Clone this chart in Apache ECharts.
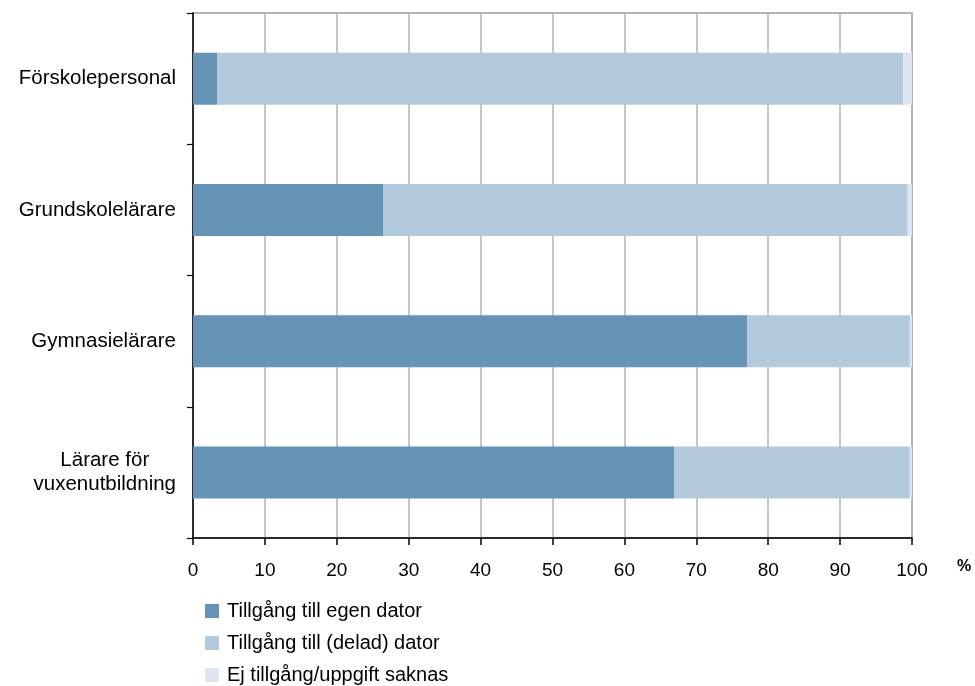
<!DOCTYPE html>
<html>
<head>
<meta charset="utf-8">
<script src="https://cdn.jsdelivr.net/npm/echarts@6/dist/echarts.min.js"></script>
<style>html,body{margin:0;padding:0;background:#fff;}#c{width:975px;height:686px;}</style>
</head>
<body>
<div id="c"></div>
<script>
var categories = ['Förskolepersonal', 'Grundskolelärare', 'Gymnasielärare', 'Lärare för\nvuxenutbildning'];
var seriesNames = ['Tillgång till egen dator', 'Tillgång till (delad) dator', 'Ej tillgång/uppgift saknas'];
var egen = [3.4, 26.5, 77.1, 66.9];
var delad = [95.4, 72.9, 22.6, 32.8];
var ej = [1.2, 0.6, 0.3, 0.3];
var xTicks = [0, 10, 20, 30, 40, 50, 60, 70, 80, 90, 100];

var colors = ['#6694B7', '#B3C9DC', '#DDE6EF'];
var font = '"Liberation Sans", Arial, sans-serif';

var chart = echarts.init(document.getElementById('c'), null, {renderer: 'canvas'});
var dataSets = [egen, delad, ej];
chart.setOption({
  animation: false,
  backgroundColor: '#fff',
  grid: {left: 193, right: 63, top: 13, bottom: 148, show: true, borderColor: '#9a9a9a', borderWidth: 1.5},
  xAxis: {
    type: 'value', min: xTicks[0], max: xTicks[xTicks.length - 1], interval: 10,
    axisLine: {show: true, lineStyle: {color: '#000', width: 1.5}},
    axisTick: {show: true, length: 7, lineStyle: {color: '#000', width: 1.5}},
    axisLabel: {color: '#000', fontFamily: font, fontSize: 19, margin: 23,
      formatter: function (v) { return xTicks.indexOf(v) >= 0 ? String(v) : ''; }},
    splitLine: {show: true, lineStyle: {color: '#b4b4b4', width: 1.5}}
  },
  yAxis: {
    type: 'category', data: categories, inverse: true,
    axisLine: {show: true, lineStyle: {color: '#000', width: 1.5}},
    axisTick: {show: true, length: 6, lineStyle: {color: '#000', width: 1.2}},
    axisLabel: {color: '#000', fontFamily: font, fontSize: 20.5, margin: 17,
      formatter: function (v) {
        if (v.indexOf('\n') >= 0) {
          return v.split('\n').map(function (s) { return '{c|' + s + '}'; }).join('\n');
        }
        return v;
      },
      rich: {c: {align: 'center', fontFamily: font, fontSize: 20.5, color: '#000', lineHeight: 24}}
    },
    splitLine: {show: false}
  },
  legend: {
    orient: 'vertical', left: 200, top: 596, height: 120, itemWidth: 14, itemHeight: 14, itemGap: 12,
    icon: 'rect',
    textStyle: {color: '#000', fontFamily: font, fontSize: 20, padding: [0, 0, 0, 3]},
    data: seriesNames
  },
  graphic: [{
    type: 'text', left: 957, top: 559,
    style: {text: '%', font: 'bold 16px ' + font, fill: '#000'}
  }],
  series: seriesNames.map(function (n, i) {
    return {
      name: n, type: 'bar', stack: 'total', barWidth: 52,
      itemStyle: {color: colors[i]},
      data: dataSets[i]
    };
  })
});
</script>
</body>
</html>
